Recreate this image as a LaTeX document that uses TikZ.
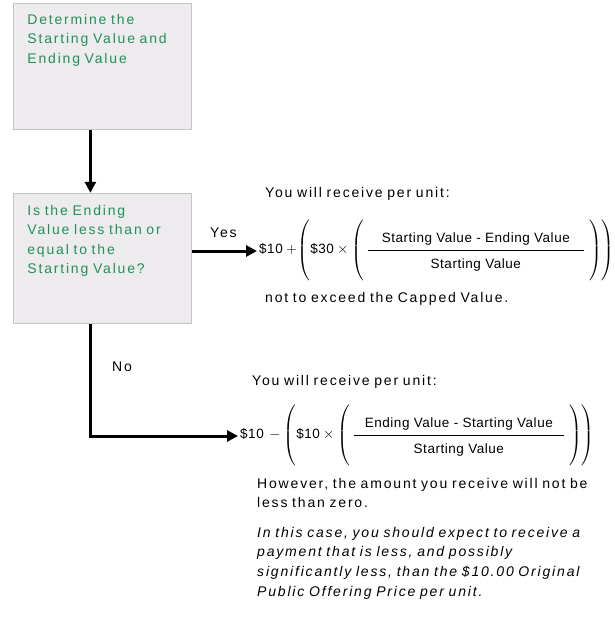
\documentclass[tikz,border=0pt]{standalone}
\usepackage{amsmath}
\usepackage{fontspec}
\setmainfont{Liberation Sans}[LetterSpace=13]
\usetikzlibrary{arrows.meta, positioning}
\definecolor{boxfill}{HTML}{EDEBEE}
\definecolor{boxline}{HTML}{C6C4C6}
\definecolor{stepgreen}{HTML}{22915A}

\begin{document}
\begin{tikzpicture}[
    x=1pt, y=-1pt,
    every node/.style={font=\fontsize{14}{19.5}\selectfont},
    box/.style={
        rectangle,
        draw=boxline,
        fill=boxfill,
        line width=0.8pt,
        text width=150pt,
        inner xsep=14pt,
        inner ysep=0pt,
        text height=21pt,
        text depth=105pt,
        align=left,
        text=stepgreen
    },
    note/.style={
        anchor=base west,
        inner sep=0pt,
        text width=356pt,
        align=left
    },
    formula/.style={
        anchor=west,
        inner sep=2pt,
        font=\fontsize{13.5}{15}\selectfont\addfontfeature{LetterSpace=4}
    },
    flow/.style={
        -{Triangle[length=11pt, width=11pt]},
        line width=3pt
    }
]
\useasboundingbox (0,0) rectangle (615,619);

% Decision boxes
\node[box, anchor=north west] (determine) at (13,3) {Determine the\\Starting Value and\\Ending Value};
\node[box, text height=22pt, text depth=108pt, below=63pt of determine] (question) {Is the Ending\\Value less than or\\equal to the\\Starting Value?};

\draw[flow] ([xshift=-12pt]determine.south) -- ([xshift=-12pt]question.north);

% Yes branch
\node[note] (yeshead) at (265,197) {You will receive per unit:};
\node[formula] (yesformula) at (257,251) {$\text{\$10}+\!\left(\text{\$30}\times\left(\,\dfrac{\hspace{14pt}\text{Starting Value - Ending Value}\rule[-6pt]{0pt}{6pt}\hspace{14pt}}{\rule{0pt}{16pt}\text{Starting Value}}\;\rule[-28pt]{0pt}{56pt}\right)\right)$};
\node[note] (yesnote) at (265,302) {not to exceed the Capped Value.};

\draw[flow] (question.east |- yesformula.west) -- (yesformula.west);
\node[note, text width={}] (yeslabel) at (210,237) {Yes};

% No branch
\node[note] (nohead) at (252,385) {You will receive per unit:};
\node[formula] (noformula) at (238,436) {$\text{\$10}\,-\left(\text{\$10}\times\left(\,\dfrac{\hspace{11pt}\text{Ending Value - Starting Value}\rule[-6pt]{0pt}{6pt}\hspace{11pt}}{\rule{0pt}{16pt}\text{Starting Value}}\;\rule[-28pt]{0pt}{56pt}\right)\right)$};
\node[note] (nonote) at (257,488) {However, the amount you receive will not be\\less than zero.};
\node[note, font=\fontsize{14}{19.8}\selectfont\itshape] (nowarning) at (257,537) {In this case, you should expect to receive a\\payment that is less, and possibly\\significantly less, than the \$10.00 Original\\Public Offering Price per unit.};

\draw[flow] ([xshift=-12pt]question.south) |- (noformula.west);
\node[note, text width={}] (nolabel) at (112,371) {No};

\end{tikzpicture}
\end{document}
